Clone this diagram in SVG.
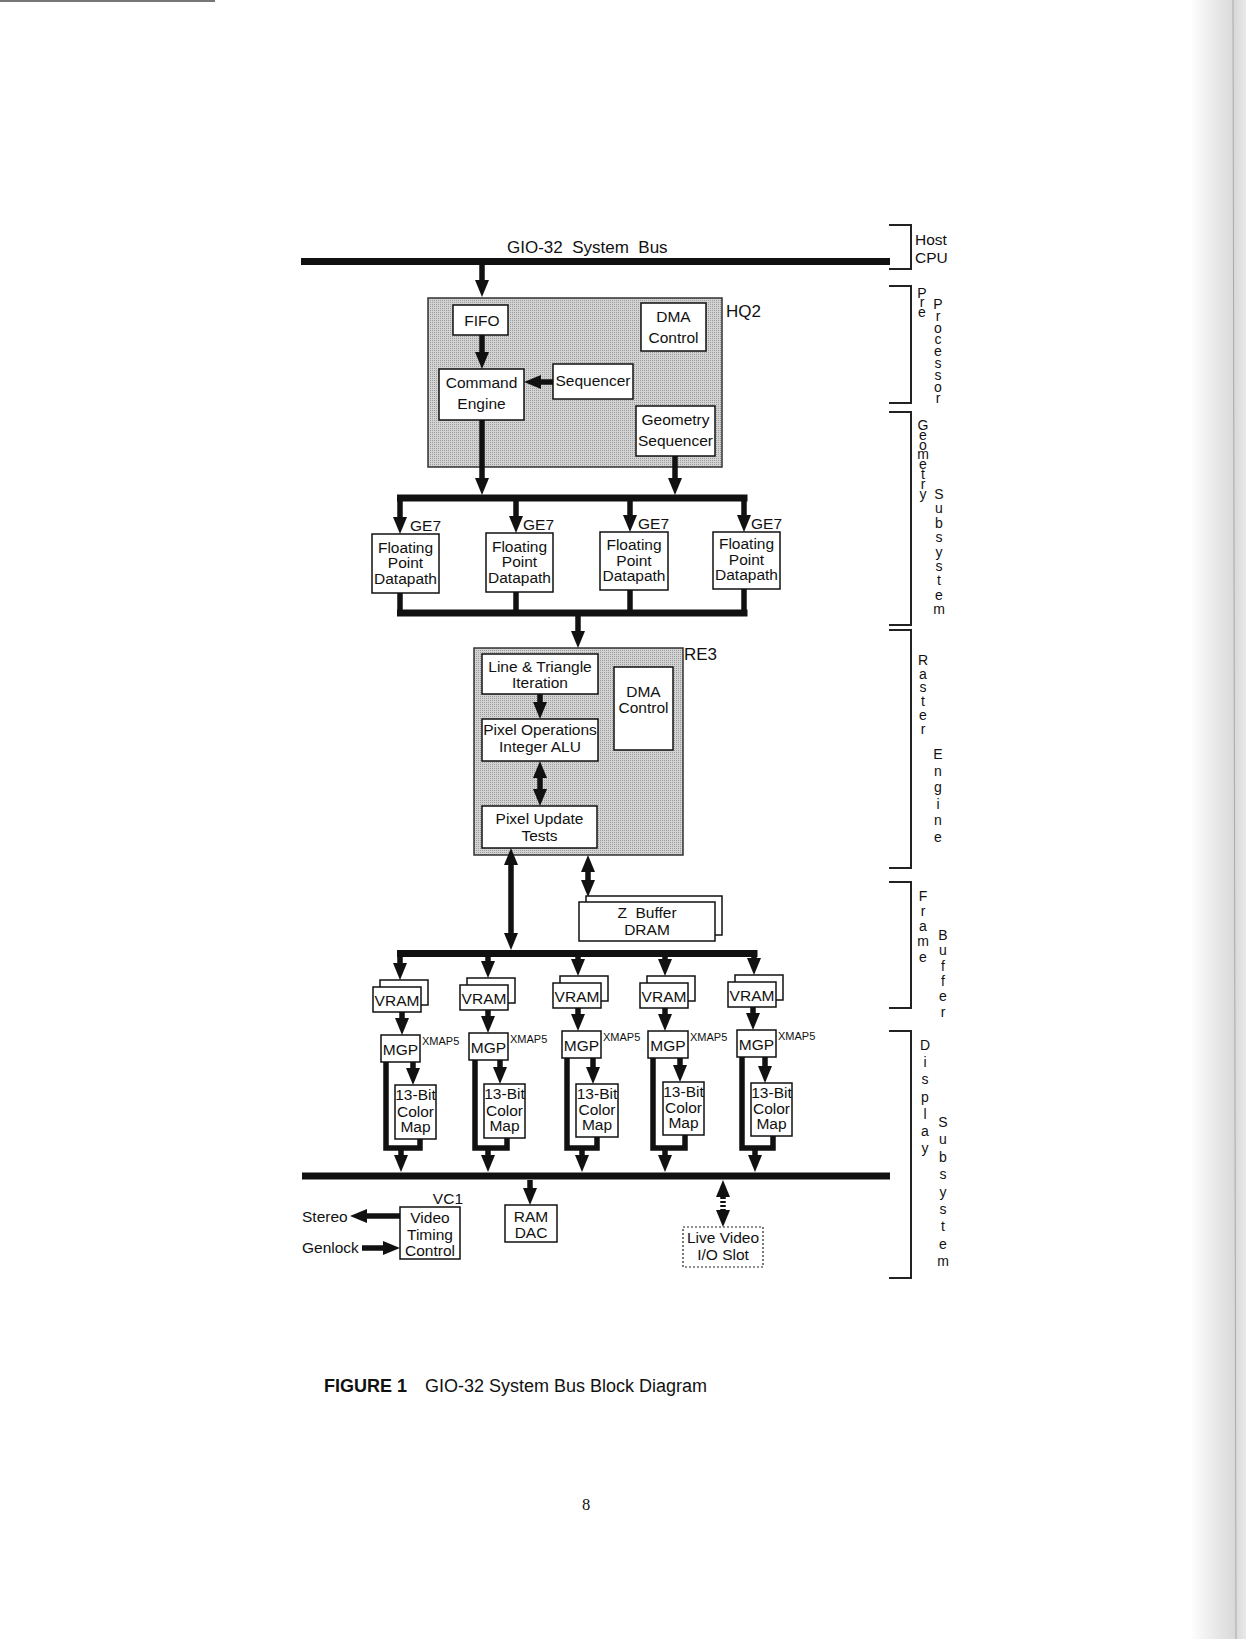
<svg xmlns="http://www.w3.org/2000/svg" width="1246" height="1639" viewBox="0 0 1246 1639">
<style>
  text { font-family: "Liberation Sans", Arial, sans-serif; fill: #111; }
  .lbl { font-size: 15.5px; text-anchor: middle; }
  .tag { font-size: 17px; }
  .sm { font-size: 11px; }
  .side { font-size: 14px; writing-mode: vertical-rl; text-orientation: upright; text-anchor: start; }
  .box { fill: #fff; stroke: #111; stroke-width: 1.5; }
  .chip { fill: url(#stipple); stroke: #333; stroke-width: 1.5; }
  .bus { stroke: #111; stroke-width: 7; fill: none; }
  .w { stroke: #111; stroke-width: 5.5; fill: none; }
  .a { stroke: #111; stroke-width: 5.5; fill: none; marker-end: url(#ah); }
  .d { stroke: #111; stroke-width: 5.5; fill: none; marker-start: url(#ah); marker-end: url(#ah); }
  .brk { stroke: #222; stroke-width: 2; fill: none; }
</style>
<defs>
  <pattern id="stipple" width="2" height="2" patternUnits="userSpaceOnUse">
    <rect width="2" height="2" fill="#d3d3d3"/>
    <rect width="1" height="1" fill="#9c9c9c"/>
  </pattern>
  <marker id="ah" markerUnits="userSpaceOnUse" viewBox="0 0 17 14" markerWidth="17" markerHeight="14" refX="8" refY="7" orient="auto-start-reverse">
    <path d="M0,0 L17,7 L0,14 z" fill="#111"/>
  </marker>
  <linearGradient id="edge" x1="0" y1="0" x2="1" y2="0">
    <stop offset="0" stop-color="#ffffff"/>
    <stop offset="0.55" stop-color="#e4e4e4"/>
    <stop offset="0.8" stop-color="#d9d9d9"/>
    <stop offset="1" stop-color="#e9e9e9"/>
  </linearGradient>
</defs>

<rect width="1246" height="1639" fill="#fff"/>
<rect x="1190" y="0" width="56" height="1639" fill="url(#edge)"/>
<line x1="1233" y1="0" x2="1236" y2="1639" stroke="#aaa" stroke-width="1"/>
<rect x="0" y="0" width="215" height="2" fill="#777"/>

<!-- Chips (gray containers) -->
<g id="hq2">
  <rect class="chip" x="428" y="298" width="294" height="169"/>
  <text class="tag" x="726" y="317">HQ2</text>
</g>
<g id="re3">
  <rect class="chip" x="474" y="648" width="209" height="207"/>
  <text class="tag" x="684" y="660">RE3</text>
</g>

<!-- Connectors -->
<g id="connectors">
  <line class="bus" x1="301" y1="261.5" x2="890" y2="261.5"/>
  <line class="a" x1="482" y1="262" x2="482" y2="288"/>
  <line class="a" x1="482" y1="335" x2="482" y2="360"/>
  <line class="a" x1="553" y1="382" x2="533" y2="382"/>
  <line class="a" x1="482" y1="420" x2="482" y2="486"/>
  <line class="a" x1="675" y1="456" x2="675" y2="486"/>
  <!-- GE7 distribution bus -->
  <line class="bus" x1="397" y1="498" x2="747.5" y2="498"/>
  <line class="a" x1="400" y1="498" x2="400" y2="525"/>
  <line class="a" x1="516" y1="498" x2="516" y2="524"/>
  <line class="a" x1="630" y1="498" x2="630" y2="523"/>
  <line class="a" x1="744" y1="498" x2="744" y2="523"/>
  <!-- GE7 collection bus -->
  <line class="w" x1="400" y1="593" x2="400" y2="613"/>
  <line class="w" x1="516" y1="592" x2="516" y2="613"/>
  <line class="w" x1="630" y1="590" x2="630" y2="613"/>
  <line class="w" x1="744" y1="589" x2="744" y2="613"/>
  <line class="bus" x1="397" y1="613" x2="747.5" y2="613"/>
  <line class="a" x1="578" y1="616" x2="578" y2="639"/>
  <!-- RE3 internal -->
  <line class="a" x1="540" y1="694" x2="540" y2="710"/>
  <line class="d" x1="540" y1="770" x2="540" y2="797"/>
  <line class="d" x1="511" y1="857" x2="511" y2="941"/>
  <line class="d" x1="588" y1="864" x2="588" y2="888"/>
  <!-- VRAM bus -->
  <line class="bus" x1="397" y1="953.5" x2="757.5" y2="953.5"/>
  <line class="a" x1="400" y1="954" x2="400" y2="971"/>
  <line class="a" x1="488" y1="954" x2="488" y2="969"/>
  <line class="a" x1="578" y1="954" x2="578" y2="967"/>
  <line class="a" x1="665" y1="954" x2="665" y2="967"/>
  <line class="a" x1="754" y1="954" x2="754" y2="966"/>
  <!-- VRAM to MGP -->
  <line class="a" x1="402" y1="1012" x2="402" y2="1026"/>
  <line class="a" x1="488" y1="1010" x2="488" y2="1024"/>
  <line class="a" x1="578" y1="1008" x2="578" y2="1022"/>
  <line class="a" x1="665" y1="1008" x2="665" y2="1022"/>
  <line class="a" x1="753" y1="1007" x2="753" y2="1021"/>
  <!-- MGP to color map -->
  <line class="a" x1="413" y1="1062" x2="413" y2="1076"/>
  <line class="a" x1="500" y1="1060" x2="500" y2="1075"/>
  <line class="a" x1="593" y1="1058" x2="593" y2="1075"/>
  <line class="a" x1="680" y1="1058" x2="680" y2="1073"/>
  <line class="a" x1="765" y1="1057" x2="765" y2="1074"/>
  <!-- return paths -->
  <polyline class="w" points="386,1062 386,1148 420,1148 420,1139"/>
  <polyline class="w" points="475,1060 475,1148 507,1148 507,1138"/>
  <polyline class="w" points="567,1058 567,1148 597,1148 597,1137"/>
  <polyline class="w" points="653,1058 653,1148 685,1148 685,1135"/>
  <polyline class="w" points="742,1057 742,1148 773,1148 773,1136"/>
  <line class="a" x1="401" y1="1148" x2="401" y2="1163"/>
  <line class="a" x1="488" y1="1148" x2="488" y2="1163"/>
  <line class="a" x1="582" y1="1148" x2="582" y2="1163"/>
  <line class="a" x1="665" y1="1148" x2="665" y2="1163"/>
  <line class="a" x1="755" y1="1148" x2="755" y2="1163"/>
  <!-- display bus -->
  <line class="bus" x1="302" y1="1176" x2="890" y2="1176" stroke-width="8"/>
  <line class="a" x1="530" y1="1180" x2="530" y2="1196"/>
  <line class="d" x1="723" y1="1189" x2="723" y2="1218" stroke-width="4" stroke-dasharray="2 2"/>
  <line class="a" x1="400" y1="1216" x2="359" y2="1216"/>
  <line class="a" x1="362" y1="1248" x2="391" y2="1248"/>
</g>

<!-- Title -->
<g id="bus-label">
  <text class="tag" x="507" y="253" xml:space="preserve">GIO-32  System  Bus</text>
</g>

<!-- HQ2 blocks -->
<g id="fifo">
  <rect class="box" x="453" y="305" width="55" height="30"/>
  <text class="lbl" x="482" y="326">FIFO</text>
</g>
<g id="dma-hq2">
  <rect class="box" x="641" y="303" width="65" height="48"/>
  <text class="lbl" x="673.5" y="322">DMA</text>
  <text class="lbl" x="673.5" y="343">Control</text>
</g>
<g id="command-engine">
  <rect class="box" x="439" y="369" width="85" height="51"/>
  <text class="lbl" x="481.5" y="388">Command</text>
  <text class="lbl" x="481.5" y="409">Engine</text>
</g>
<g id="sequencer">
  <rect class="box" x="553" y="364" width="80" height="35"/>
  <text class="lbl" x="593" y="386">Sequencer</text>
</g>
<g id="geometry-sequencer">
  <rect class="box" x="636" y="406" width="79" height="50"/>
  <text class="lbl" x="675.5" y="425">Geometry</text>
  <text class="lbl" x="675.5" y="446">Sequencer</text>
</g>

<!-- GE7 -->
<g id="ge7-1">
  <text class="lbl" x="410" y="531" style="text-anchor:start">GE7</text>
  <rect class="box" x="372" y="534" width="67" height="59"/>
  <text class="lbl" x="405.5" y="553">Floating</text>
  <text class="lbl" x="405.5" y="568">Point</text>
  <text class="lbl" x="405.5" y="584">Datapath</text>
</g>
<g id="ge7-2">
  <text class="lbl" x="523" y="530" style="text-anchor:start">GE7</text>
  <rect class="box" x="486" y="533" width="67" height="59"/>
  <text class="lbl" x="519.5" y="552">Floating</text>
  <text class="lbl" x="519.5" y="567">Point</text>
  <text class="lbl" x="519.5" y="583">Datapath</text>
</g>
<g id="ge7-3">
  <text class="lbl" x="638" y="529" style="text-anchor:start">GE7</text>
  <rect class="box" x="600" y="532" width="68" height="58"/>
  <text class="lbl" x="634" y="550">Floating</text>
  <text class="lbl" x="634" y="566">Point</text>
  <text class="lbl" x="634" y="581">Datapath</text>
</g>
<g id="ge7-4">
  <text class="lbl" x="751" y="529" style="text-anchor:start">GE7</text>
  <rect class="box" x="713" y="532" width="67" height="57"/>
  <text class="lbl" x="746.5" y="549">Floating</text>
  <text class="lbl" x="746.5" y="565">Point</text>
  <text class="lbl" x="746.5" y="580">Datapath</text>
</g>

<!-- RE3 blocks -->
<g id="line-triangle">
  <rect class="box" x="482" y="654" width="116" height="40"/>
  <text class="lbl" x="540" y="672">Line &amp; Triangle</text>
  <text class="lbl" x="540" y="688">Iteration</text>
</g>
<g id="dma-re3">
  <rect class="box" x="614" y="667" width="59" height="83"/>
  <text class="lbl" x="643.5" y="697">DMA</text>
  <text class="lbl" x="643.5" y="713">Control</text>
</g>
<g id="pixel-ops">
  <rect class="box" x="482" y="719" width="116" height="42"/>
  <text class="lbl" x="540" y="735">Pixel Operations</text>
  <text class="lbl" x="540" y="752">Integer ALU</text>
</g>
<g id="pixel-update">
  <rect class="box" x="482" y="806" width="115" height="42"/>
  <text class="lbl" x="539.5" y="824">Pixel Update</text>
  <text class="lbl" x="539.5" y="841">Tests</text>
</g>
<g id="zbuffer">
  <rect class="box" x="586" y="896" width="136" height="39"/>
  <rect class="box" x="579" y="902" width="136" height="39"/>
  <text class="lbl" x="647" y="918" xml:space="preserve">Z  Buffer</text>
  <text class="lbl" x="647" y="935">DRAM</text>
</g>

<!-- VRAM -->
<g id="vram-1">
  <rect class="box" x="380" y="980" width="48" height="25"/>
  <rect class="box" x="373" y="987" width="48" height="25"/>
  <text class="lbl" x="397" y="1006">VRAM</text>
</g>
<g id="vram-2">
  <rect class="box" x="467" y="978" width="48" height="25"/>
  <rect class="box" x="460" y="985" width="48" height="25"/>
  <text class="lbl" x="484" y="1004">VRAM</text>
</g>
<g id="vram-3">
  <rect class="box" x="560" y="976" width="48" height="25"/>
  <rect class="box" x="553" y="983" width="48" height="25"/>
  <text class="lbl" x="577" y="1002">VRAM</text>
</g>
<g id="vram-4">
  <rect class="box" x="647" y="976" width="48" height="25"/>
  <rect class="box" x="640" y="983" width="48" height="25"/>
  <text class="lbl" x="664" y="1002">VRAM</text>
</g>
<g id="vram-5">
  <rect class="box" x="735" y="975" width="48" height="25"/>
  <rect class="box" x="728" y="982" width="48" height="25"/>
  <text class="lbl" x="752" y="1001">VRAM</text>
</g>

<!-- MGP / XMAP5 -->
<g id="mgp-1">
  <rect class="box" x="381" y="1035" width="39" height="27"/>
  <text class="lbl" x="400.5" y="1055">MGP</text>
  <text class="sm" x="422" y="1045">XMAP5</text>
</g>
<g id="mgp-2">
  <rect class="box" x="469" y="1033" width="39" height="27"/>
  <text class="lbl" x="488.5" y="1053">MGP</text>
  <text class="sm" x="510" y="1043">XMAP5</text>
</g>
<g id="mgp-3">
  <rect class="box" x="562" y="1031" width="39" height="27"/>
  <text class="lbl" x="581.5" y="1051">MGP</text>
  <text class="sm" x="603" y="1041">XMAP5</text>
</g>
<g id="mgp-4">
  <rect class="box" x="648" y="1031" width="40" height="27"/>
  <text class="lbl" x="668" y="1051">MGP</text>
  <text class="sm" x="690" y="1041">XMAP5</text>
</g>
<g id="mgp-5">
  <rect class="box" x="737" y="1030" width="39" height="27"/>
  <text class="lbl" x="756.5" y="1050">MGP</text>
  <text class="sm" x="778" y="1040">XMAP5</text>
</g>

<!-- Color maps -->
<g id="cmap-1">
  <rect class="box" x="395" y="1085" width="41" height="54"/>
  <text class="lbl" x="415.5" y="1100">13-Bit</text>
  <text class="lbl" x="415.5" y="1117">Color</text>
  <text class="lbl" x="415.5" y="1132">Map</text>
</g>
<g id="cmap-2">
  <rect class="box" x="484" y="1084" width="41" height="54"/>
  <text class="lbl" x="504.5" y="1099">13-Bit</text>
  <text class="lbl" x="504.5" y="1116">Color</text>
  <text class="lbl" x="504.5" y="1131">Map</text>
</g>
<g id="cmap-3">
  <rect class="box" x="576" y="1084" width="42" height="53"/>
  <text class="lbl" x="597" y="1099">13-Bit</text>
  <text class="lbl" x="597" y="1115">Color</text>
  <text class="lbl" x="597" y="1130">Map</text>
</g>
<g id="cmap-4">
  <rect class="box" x="663" y="1082" width="41" height="53"/>
  <text class="lbl" x="683.5" y="1097">13-Bit</text>
  <text class="lbl" x="683.5" y="1113">Color</text>
  <text class="lbl" x="683.5" y="1128">Map</text>
</g>
<g id="cmap-5">
  <rect class="box" x="751" y="1083" width="41" height="53"/>
  <text class="lbl" x="771.5" y="1098">13-Bit</text>
  <text class="lbl" x="771.5" y="1114">Color</text>
  <text class="lbl" x="771.5" y="1129">Map</text>
</g>

<!-- Display bottom -->
<g id="vc1">
  <text class="lbl" x="463" y="1204" style="text-anchor:end">VC1</text>
  <rect class="box" x="400" y="1207" width="60" height="52"/>
  <text class="lbl" x="430" y="1223">Video</text>
  <text class="lbl" x="430" y="1240">Timing</text>
  <text class="lbl" x="430" y="1256">Control</text>
</g>
<g id="stereo">
  <text class="lbl" x="302" y="1222" style="text-anchor:start">Stereo</text>
</g>
<g id="genlock">
  <text class="lbl" x="302" y="1253" style="text-anchor:start">Genlock</text>
</g>
<g id="ramdac">
  <rect class="box" x="505" y="1205" width="52" height="37"/>
  <text class="lbl" x="531" y="1222">RAM</text>
  <text class="lbl" x="531" y="1238">DAC</text>
</g>
<g id="live-video">
  <rect x="683" y="1227" width="80" height="40" fill="#fff" stroke="#222" stroke-width="1.2" stroke-dasharray="2 2"/>
  <text class="lbl" x="723" y="1243">Live Video</text>
  <text class="lbl" x="723" y="1260">I/O Slot</text>
</g>

<!-- Subsystem brackets -->
<g id="host-cpu">
  <polyline class="brk" points="889,225 911,225 911,269 889,269"/>
  <text class="lbl" x="915" y="245" style="text-anchor:start">Host</text>
  <text class="lbl" x="915" y="263" style="text-anchor:start">CPU</text>
</g>
<g id="pre-processor">
  <polyline class="brk" points="889,286 911,286 911,403 889,403"/>
  <text class="side" x="922" y="285" style="letter-spacing:-6.6px">Pre</text>
  <text class="side" x="938" y="296" style="letter-spacing:-4.2px">Processor</text>
</g>
<g id="geometry-subsystem">
  <polyline class="brk" points="889,412 911,412 911,625 889,625"/>
  <text class="side" x="923" y="417" style="letter-spacing:-6.2px">Geometry</text>
  <text class="side" x="939" y="486" style="letter-spacing:-1.6px">Subsystem</text>
</g>
<g id="raster-engine">
  <polyline class="brk" points="889,630 911,630 911,868 889,868"/>
  <text class="side" x="923" y="652" style="letter-spacing:-2.3px">Raster</text>
  <text class="side" x="938" y="746" style="letter-spacing:0.5px">Engine</text>
</g>
<g id="frame-buffer">
  <polyline class="brk" points="889,882 911,882 911,1008 889,1008"/>
  <text class="side" x="923" y="888" style="letter-spacing:-0.85px">Frame</text>
  <text class="side" x="943" y="927" style="letter-spacing:-0.7px">Buffer</text>
</g>
<g id="display-subsystem">
  <polyline class="brk" points="889,1031 911,1031 911,1278 889,1278"/>
  <text class="side" x="925" y="1037" style="letter-spacing:1.2px">Display</text>
  <text class="side" x="943" y="1114" style="letter-spacing:1.4px">Subsystem</text>
</g>

<!-- Caption -->
<g id="caption">
  <text x="324" y="1392" style="font-size:18px;font-weight:bold">FIGURE 1</text>
  <text x="425" y="1392" style="font-size:18px">GIO-32 System Bus Block Diagram</text>
  <text x="582" y="1510" style="font-family:'Liberation Serif','Times New Roman',serif;font-size:16.5px">8</text>
</g>
</svg>
